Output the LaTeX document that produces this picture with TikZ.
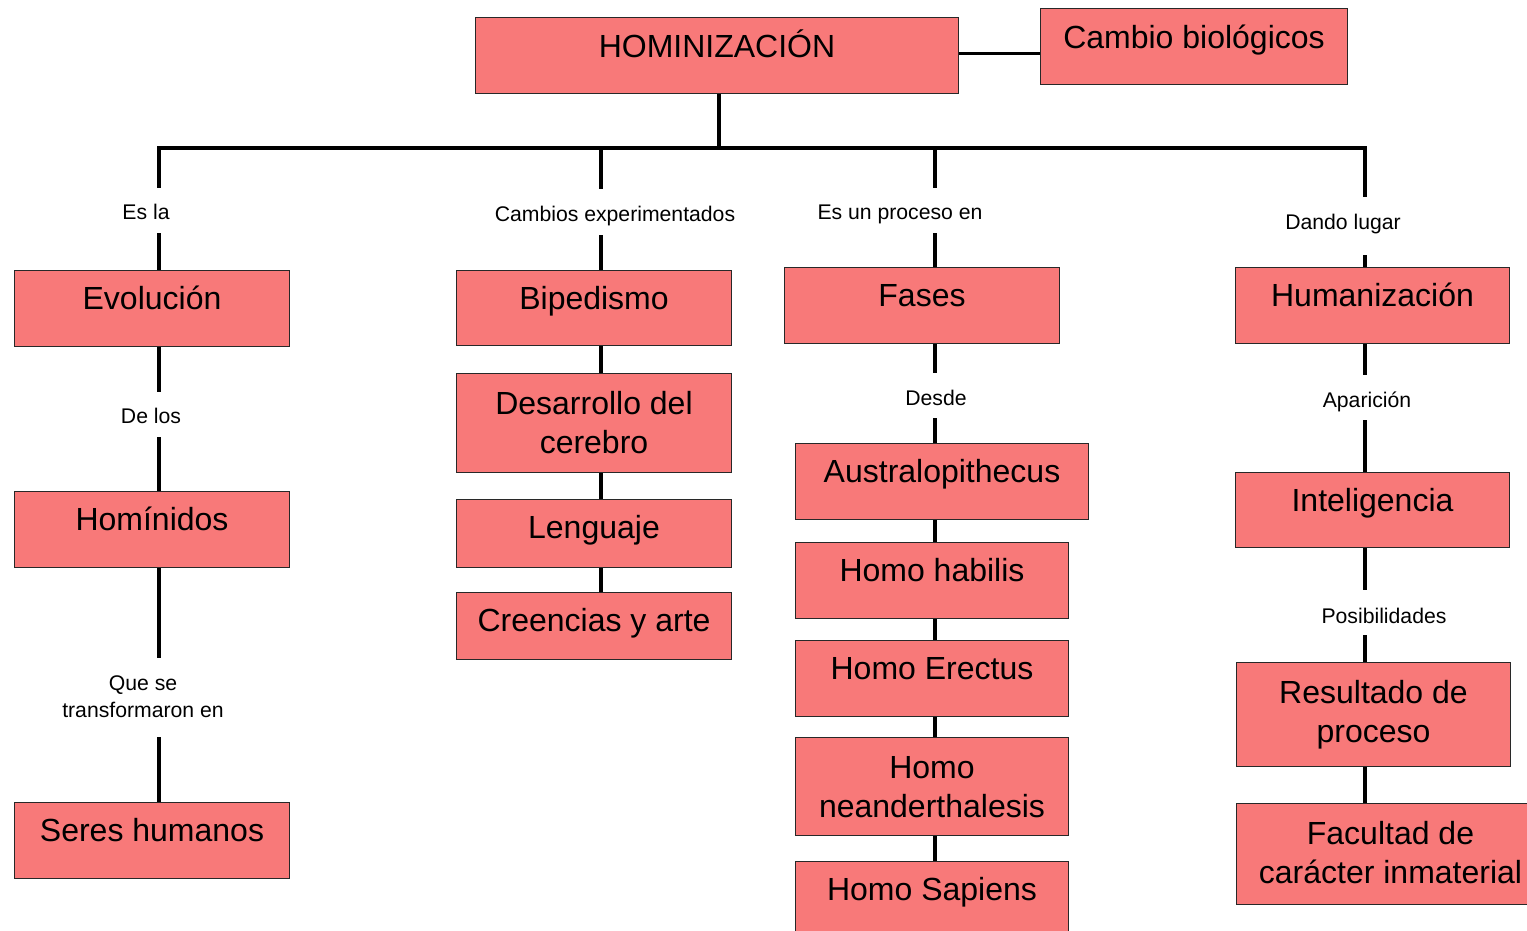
\documentclass[tikz,border=0pt]{standalone}
\usepackage{fontspec}
\setmainfont{Liberation Sans}
\definecolor{boxred}{RGB}{248,121,121}
\definecolor{boxline}{RGB}{40,40,40}
\newcommand\twolines[2]{\begin{tabular}[t]{@{}c@{}}#1\\#2\end{tabular}}
\tikzset{
  rbox/.style={draw=boxline, line width=0.5pt, fill=boxred, inner sep=0pt,
    anchor=north west, font=\fontsize{16pt}{19.5pt}\selectfont, text height=19.5pt},
  rw/.style={minimum width=#1*0.5pt},
  rd/.style={text depth=#1*0.5pt},
  lbl/.style={inner sep=0pt, anchor=base, font=\fontsize{10.6pt}{13.5pt}\selectfont},
  conn/.style={line width=1.75pt, black},
}
\begin{document}
\begin{tikzpicture}[x=0.5pt, y=-0.5pt]
\useasboundingbox (0,0) rectangle (1527,931);
\clip (0,0) rectangle (1527,931);

% boxes
\node[rbox, rw=483, rd=36, text height=20pt] (hom) at (475,17) {HOMINIZACIÓN};
\node[rbox, rw=307, rd=36, text height=20pt] (cam) at (1040,8) {Cambio biológicos};

\node[rbox, rw=275, rd=37] (evo) at (14,270) {Evolución};
\node[rbox, rw=275, rd=37] (homi) at (14,491) {Homínidos};
\node[rbox, rw=275, rd=37] (seres) at (14,802) {Seres humanos};

\node[rbox, rw=275, rd=36] (bip) at (456,270) {Bipedismo};
\node[rbox, rw=275, rd=58.5, text height=20.25pt] (des) at (456,373) {\twolines{Desarrollo del}{cerebro}};
\node[rbox, rw=275, rd=29] (len) at (456,499) {Lenguaje};
\node[rbox, rw=275, rd=28] (cre) at (456,592) {Creencias y arte};

\node[rbox, rw=275, rd=37] (fas) at (784,267) {Fases};
\node[rbox, rw=293, rd=37] (aus) at (795,443) {Australopithecus};
\node[rbox, rw=273, rd=37] (hab) at (795,542) {Homo habilis};
\node[rbox, rw=273, rd=37] (ere) at (795,640) {Homo Erectus};
\node[rbox, rw=273, rd=57.5, text height=20.25pt] (nea) at (795,737) {\twolines{Homo}{neanderthalesis}};
\node[rbox, rw=273, rd=37] (sap) at (795,861) {Homo Sapiens};

\node[rbox, rw=274, rd=37] (hum) at (1235,267) {Humanización};
\node[rbox, rw=274, rd=36] (int) at (1235,472) {Inteligencia};
\node[rbox, rw=274, rd=63.5, text height=20.25pt] (res) at (1236,662) {\twolines{Resultado de}{proceso}};
\node[rbox, rw=308, rd=60.5, text height=20.25pt] (fac) at (1236,803) {\twolines{Facultad de}{carácter inmaterial}};

% labels
\node[lbl, text height=16pt, text depth=6.5pt] (lA) at (146,220) {Es la};
\node[lbl, text height=16pt, text depth=7pt] (lB) at (615,221) {Cambios experimentados};
\node[lbl, text height=16pt, text depth=6.5pt] (lC) at (900,220) {Es un proceso en};
\node[lbl, text height=16pt, text depth=13pt] (lD) at (1343,229) {Dando lugar};
\node[lbl, text height=15.5pt, text depth=7pt] (lE) at (151,423) {De los};
\node[lbl, text height=16pt, text depth=23.5pt] (lF) at (143,690) {\twolines{Que se}{transformaron en}};
\node[lbl, text height=16pt, text depth=6.5pt] (lG) at (936,405) {Desde};
\node[lbl, text height=16pt, text depth=6.5pt] (lH) at (1367,407) {Aparición};
\node[lbl, text height=16.5pt, text depth=6pt] (lI) at (1384,623) {Posibilidades};

% branch points
\coordinate (tk) at (719,148);
\coordinate (b1) at (159,148);
\coordinate (b2) at (601,148);
\coordinate (b3) at (935,148);
\coordinate (b4) at (1365,148);

% connectors
\draw[conn] ([yshift=1pt]hom.east) -- ([yshift=1pt]hom.east -| cam.west);
\draw[conn] (tk |- hom.south) -- (tk);
\draw[conn] (b1 |- lA.north) -- (b1) -- (b4) -- (b4 |- lD.north);
\draw[conn] (b2) -- (b2 |- lB.north);
\draw[conn] (b3) -- (b3 |- lC.north);

\draw[conn] (b1 |- lA.south) -- (b1 |- evo.north);
\draw[conn] (b1 |- evo.south) -- (b1 |- lE.north);
\draw[conn] (b1 |- lE.south) -- (b1 |- homi.north);
\draw[conn] (b1 |- homi.south) -- (b1 |- lF.north);
\draw[conn] (b1 |- lF.south) -- (b1 |- seres.north);

\draw[conn] (b2 |- lB.south) -- (b2 |- bip.north);
\draw[conn] (b2 |- bip.south) -- (b2 |- des.north);
\draw[conn] (b2 |- des.south) -- (b2 |- len.north);
\draw[conn] (b2 |- len.south) -- (b2 |- cre.north);

\draw[conn] (b3 |- lC.south) -- (b3 |- fas.north);
\draw[conn] (b3 |- fas.south) -- (b3 |- lG.north);
\draw[conn] (b3 |- lG.south) -- (b3 |- aus.north);
\draw[conn] (b3 |- aus.south) -- (b3 |- hab.north);
\draw[conn] (b3 |- hab.south) -- (b3 |- ere.north);
\draw[conn] (b3 |- ere.south) -- (b3 |- nea.north);
\draw[conn] (b3 |- nea.south) -- (b3 |- sap.north);

\draw[conn] (b4 |- lD.south) -- (b4 |- hum.north);
\draw[conn] (b4 |- hum.south) -- (b4 |- lH.north);
\draw[conn] (b4 |- lH.south) -- (b4 |- int.north);
\draw[conn] (b4 |- int.south) -- (b4 |- lI.north);
\draw[conn] (b4 |- lI.south) -- (b4 |- res.north);
\draw[conn] (b4 |- res.south) -- (b4 |- fac.north);
\end{tikzpicture}
\end{document}
